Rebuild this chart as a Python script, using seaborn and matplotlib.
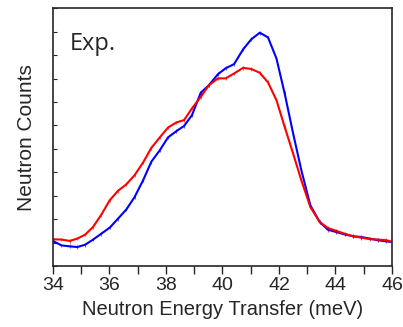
import matplotlib
matplotlib.use("Agg")
import matplotlib.pyplot as plt
import seaborn as sns
import pandas as pd
from matplotlib.ticker import MultipleLocator

energy = [34.00, 34.30, 34.59, 34.86, 35.14, 35.42, 35.71, 36.01, 36.30, 36.60,
          36.89, 37.19, 37.48, 37.78, 38.07, 38.37, 38.64, 38.92, 39.23, 39.52,
          39.84, 40.11, 40.41, 40.73, 41.02, 41.32, 41.61, 41.91, 42.20, 42.50,
          42.79, 43.11, 43.44, 43.73, 44.03, 44.32, 44.62, 44.91, 45.21, 45.50,
          45.80, 46.00]
blue_counts = [107, 88, 84, 81, 91, 113, 138, 164, 202, 242,
               295, 366, 445, 494, 549, 576, 598, 644, 740, 772,
               819, 844, 862, 925, 968, 996, 976, 886, 737, 566,
               409, 259, 188, 155, 145, 135, 127, 124, 117, 110,
               105, 103]
red_counts = [114, 113, 107, 117, 134, 167, 219, 281, 321, 349,
              388, 442, 504, 549, 591, 613, 623, 673, 722, 772,
              801, 801, 822, 846, 841, 825, 784, 708, 594, 480,
              366, 252, 188, 162, 150, 138, 127, 121, 115, 113,
              110, 103]
err = 8
series_names = ["blue", "red"]
colors = ["#0000ff", "#ff0000"]
x_ticks = [34, 36, 38, 40, 42, 44, 46]

df = pd.concat([
    pd.DataFrame({"E": energy, "counts": blue_counts, "series": "blue"}),
    pd.DataFrame({"E": energy, "counts": red_counts, "series": "red"}),
])

sns.set_style("ticks")
plt.rcParams["font.family"] = ["Liberation Sans", "DejaVu Sans"]

fig = plt.figure(figsize=(4.03, 3.27), dpi=100)
ax = fig.add_axes([0.1315, 0.1865, 0.8412, 0.788])

sns.lineplot(data=df, x="E", y="counts", hue="series", hue_order=series_names,
             palette=colors, linewidth=1.5, ax=ax, legend=False, sort=False)
for name, col, vals in zip(series_names, colors, [blue_counts, red_counts]):
    ax.errorbar(energy, vals, yerr=err, fmt="none", ecolor=col, elinewidth=0.8, alpha=0.6)

ax.set_xlim(34, 46)
ax.set_ylim(0, 1100)
ax.set_xticks(x_ticks)
ax.xaxis.set_minor_locator(MultipleLocator(1))
ax.yaxis.set_major_locator(MultipleLocator(100))
ax.set_yticklabels([])
ax.tick_params(axis="x", which="both", direction="out", length=6, width=1, labelsize=14, pad=2)
ax.tick_params(axis="y", which="both", direction="in", length=3, width=0.8)
for s in ax.spines.values():
    s.set_linewidth(1.2)
    s.set_visible(True)

ax.set_xlabel("Neutron Energy Transfer (meV)", fontsize=14.5, labelpad=4)
ax.set_ylabel("Neutron Counts", fontsize=15, labelpad=9)
ax.text(0.05, 0.86, "Exp.", transform=ax.transAxes, fontsize=17,
        family=["Open Sans", "DejaVu Sans"], va="center", ha="left")

fig.savefig("out.png", dpi=100)
